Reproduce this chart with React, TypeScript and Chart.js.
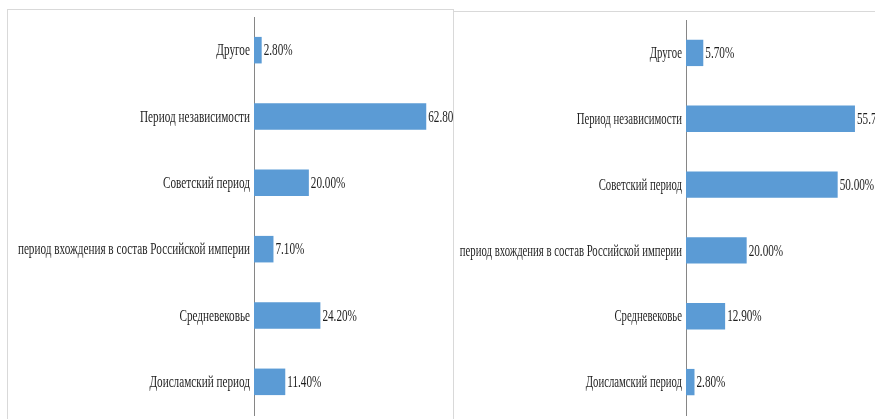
import React, { useEffect, useRef } from "react";
import { Chart, registerables } from "chart.js";

Chart.register(...registerables);

const categories = [
  "Другое",
  "Период независимости",
  "Советский период",
  "период вхождения в состав Российской империи",
  "Средневековье",
  "Доисламский период",
];
const leftValues = [2.8, 62.8, 20.0, 7.1, 24.2, 11.4];
const rightValues = [5.7, 55.7, 50.0, 20.0, 12.9, 2.8];

const BAR_COLOR = "#5B9BD5";
const TEXT_COLOR = "#1f1f1f";
const FONT = '16px "Liberation Serif"';
const VALUE_SQUEEZE = 0.7;

function makeLabelsPlugin(catSqueeze: number) {
  return {
    id: "squeezedLabels",
    afterDraw(chart: any) {
      const ctx = chart.ctx;
      const yScale = chart.scales.y;
      const meta = chart.getDatasetMeta(0);
      const data = chart.data.datasets[0].data as number[];
      ctx.save();
      ctx.font = FONT;
      ctx.fillStyle = TEXT_COLOR;
      ctx.textBaseline = "middle";
      chart.data.labels.forEach((lab: string, i: number) => {
        const y = yScale.getPixelForValue(i);
        const x = chart.chartArea.left - 4;
        ctx.save();
        ctx.translate(x, y + 1);
        ctx.scale(catSqueeze, 1);
        ctx.textAlign = "right";
        ctx.fillText(lab, 0, 0);
        ctx.restore();
      });
      meta.data.forEach((bar: any, i: number) => {
        const txt = data[i].toFixed(2) + "%";
        ctx.save();
        ctx.translate(bar.x + 2, bar.y + 1);
        ctx.scale(VALUE_SQUEEZE, 1);
        ctx.textAlign = "left";
        ctx.fillText(txt, 0, 0);
        ctx.restore();
      });
      ctx.restore();
    },
  };
}

function BarPanel(props: {
  values: number[];
  width: number;
  height: number;
  axisLeft: number;
  max: number;
  padTop: number;
  padBottom: number;
  padRight: number;
  catSqueeze: number;
}) {
  const ref = useRef<HTMLCanvasElement>(null);
  useEffect(() => {
    if (!ref.current) return;
    let chart: any = null;
    let cancelled = false;
    const make = () => {
      if (cancelled || !ref.current) return;
      chart = new Chart(ref.current, {
        type: "bar",
        data: {
          labels: categories,
          datasets: [
            {
              data: props.values,
              backgroundColor: BAR_COLOR,
              borderWidth: 0,
              categoryPercentage: 1,
              barPercentage: 0.4,
            },
          ],
        },
        options: {
          indexAxis: "y",
          responsive: false,
          animation: false,
          devicePixelRatio: 1,
          layout: {
            padding: {
              left: 0,
              right: props.padRight,
              top: props.padTop,
              bottom: props.padBottom,
            },
          },
          plugins: {
            legend: { display: false },
            tooltip: { enabled: false },
            title: { display: false },
          },
          scales: {
            x: { display: false, min: 0, max: props.max },
            y: {
              display: true,
              grid: { display: false, drawTicks: false },
              ticks: { display: false },
              border: { display: true, color: "#868686", width: 1 },
              afterFit: (scale: any) => {
                scale.width = props.axisLeft;
              },
            },
          },
        },
        plugins: [makeLabelsPlugin(props.catSqueeze)],
      });
    };
    const fonts: any = (document as any).fonts;
    if (fonts && fonts.load) {
      fonts.load(FONT, "Период 2.80%").then(make, make);
    } else {
      make();
    }
    return () => {
      cancelled = true;
      if (chart) chart.destroy();
    };
  }, []);
  return (
    <canvas
      ref={ref}
      width={props.width}
      height={props.height}
      style={{ display: "block", width: props.width, height: props.height }}
    />
  );
}

export default function App() {
  return (
    <div
      style={{
        position: "fixed",
        left: 0,
        top: 0,
        width: 875,
        height: 419,
        overflow: "hidden",
        background: "#fff",
      }}
    >
      <div
        style={{
          position: "absolute",
          left: 453,
          top: 11,
          width: 447,
          height: 430,
          border: "1px solid #d9d9d9",
          boxSizing: "border-box",
          overflow: "hidden",
          background: "#fff",
        }}
      >
        <BarPanel
          values={rightValues}
          width={445}
          height={420}
          axisLeft={232}
          max={60}
          padTop={8}
          padBottom={17}
          padRight={31}
          catSqueeze={0.67}
        />
      </div>
      <div
        style={{
          position: "absolute",
          left: 7,
          top: 9,
          width: 447,
          height: 430,
          border: "1px solid #d9d9d9",
          boxSizing: "border-box",
          overflow: "hidden",
          background: "#fff",
        }}
      >
        <BarPanel
          values={leftValues}
          width={445}
          height={420}
          axisLeft={246}
          max={70}
          padTop={7}
          padBottom={15}
          padRight={7}
          catSqueeze={0.7}
        />
      </div>
    </div>
  );
}
